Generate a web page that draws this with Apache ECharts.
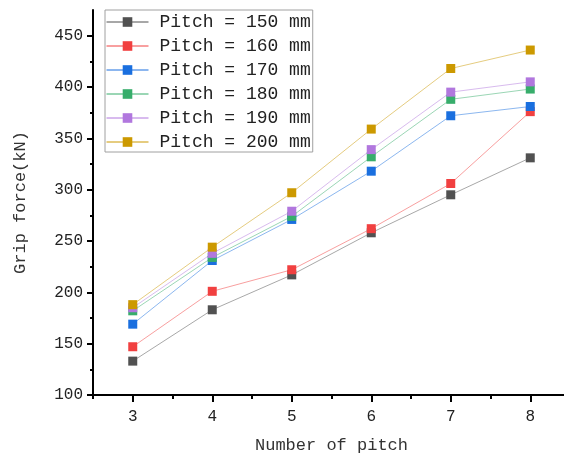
<!DOCTYPE html>
<html>
<head>
<meta charset="utf-8">
<script src="https://cdn.jsdelivr.net/npm/echarts@6/dist/echarts.min.js"></script>
<style>
  html, body { margin: 0; padding: 0; background: #fff; }
  #chart { width: 564px; height: 457px; }
</style>
</head>
<body>
<div id="chart"></div>
<script>
// x positions (number of pitch)
const pitchCounts = [3, 4, 5, 6, 7, 8];
const xMinorTicks = [2.5, 3.5, 4.5, 5.5, 6.5, 7.5, 8.5];
const yMajorTicks = [100, 150, 200, 250, 300, 350, 400, 450];
const yMinorTicks = [125, 175, 225, 275, 325, 375, 425];

const seriesNames = ['Pitch = 150 mm', 'Pitch = 160 mm', 'Pitch = 170 mm',
                     'Pitch = 180 mm', 'Pitch = 190 mm', 'Pitch = 200 mm'];
const colors = ['#515151', '#F14040', '#1A6FDF', '#37AD6B', '#B177DE', '#CC9900'];

// grip force (kN)
const pitch150 = [133, 183, 217, 258, 295, 331];
const pitch160 = [147, 201, 222, 262, 306, 376];
const pitch170 = [169, 231, 271, 318, 372, 381];
const pitch180 = [182, 234, 274, 332, 388, 398];
const pitch190 = [185, 238, 279, 339, 395, 405];
const pitch200 = [188, 244, 297, 359, 418, 436];
const allValues = [pitch150, pitch160, pitch170, pitch180, pitch190, pitch200];

const FONT = 'Liberation Mono';

const chart = echarts.init(document.getElementById('chart'));

const series = allValues.map((vals, i) => ({
  name: seriesNames[i],
  type: 'line',
  xAxisIndex: 0,
  yAxisIndex: 0,
  data: vals.map((v, j) => [pitchCounts[j], v]),
  symbol: 'rect',
  symbolSize: 9,
  itemStyle: { color: colors[i] },
  lineStyle: { color: colors[i], width: 1, opacity: 0.5 },
  emphasis: { disabled: true },
  animation: false
}));

// legend entries keep full-strength lines
const legendData = seriesNames.map((name, i) => ({
  name: name,
  lineStyle: { color: colors[i], width: 1, opacity: 1 }
}));

const option = {
  animation: false,
  grid: { left: 93, top: 10, right: -6, bottom: 62, outerBoundsMode: 'none' },
  legend: {
    orient: 'vertical',
    left: 105,
    top: 10,
    padding: [2, 2, 0, 1],
    itemGap: 4,
    itemWidth: 42,
    itemHeight: 12,
    backgroundColor: '#fff',
    borderColor: '#a0a0a0',
    borderWidth: 1,
    borderRadius: 0,
    textStyle: { fontFamily: FONT, fontSize: 18, color: '#222', lineHeight: 20, padding: [0, 0, 0, 6] },
    data: legendData
  },
  xAxis: [{
    type: 'value',
    min: 2.5,
    max: 8.5,
    name: 'Number of pitch',
    nameLocation: 'middle',
    nameGap: 42,
    nameTextStyle: { fontFamily: FONT, fontSize: 17, color: '#333' },
    axisLine: { lineStyle: { color: '#000', width: 2 } },
    axisTick: { length: 7, lineStyle: { color: '#000', width: 2 }, customValues: pitchCounts },
    axisLabel: { fontFamily: FONT, fontSize: 16, color: '#222', margin: 14, customValues: pitchCounts },
    splitLine: { show: false }
  }, {
    type: 'value',
    position: 'bottom',
    min: 2.5,
    max: 8.5,
    axisLine: { show: false },
    axisTick: { length: 4, lineStyle: { color: '#000', width: 2 }, customValues: xMinorTicks },
    axisLabel: { show: false },
    splitLine: { show: false }
  }],
  yAxis: [{
    type: 'value',
    min: 100,
    max: 475,
    name: 'Grip force(kN)',
    nameLocation: 'middle',
    nameGap: 64,
    nameTextStyle: { fontFamily: FONT, fontSize: 17, color: '#333' },
    axisLine: { show: true, lineStyle: { color: '#000', width: 2 } },
    axisTick: { show: true, length: 6, lineStyle: { color: '#000', width: 2 }, customValues: yMajorTicks },
    axisLabel: { fontFamily: FONT, fontSize: 16, color: '#222', margin: 10, customValues: yMajorTicks },
    splitLine: { show: false }
  }, {
    type: 'value',
    position: 'left',
    min: 100,
    max: 475,
    axisLine: { show: false },
    axisTick: { show: true, length: 3, lineStyle: { color: '#000', width: 2 }, customValues: yMinorTicks },
    axisLabel: { show: false },
    splitLine: { show: false }
  }],
  series: series
};

chart.setOption(option);
</script>
</body>
</html>
